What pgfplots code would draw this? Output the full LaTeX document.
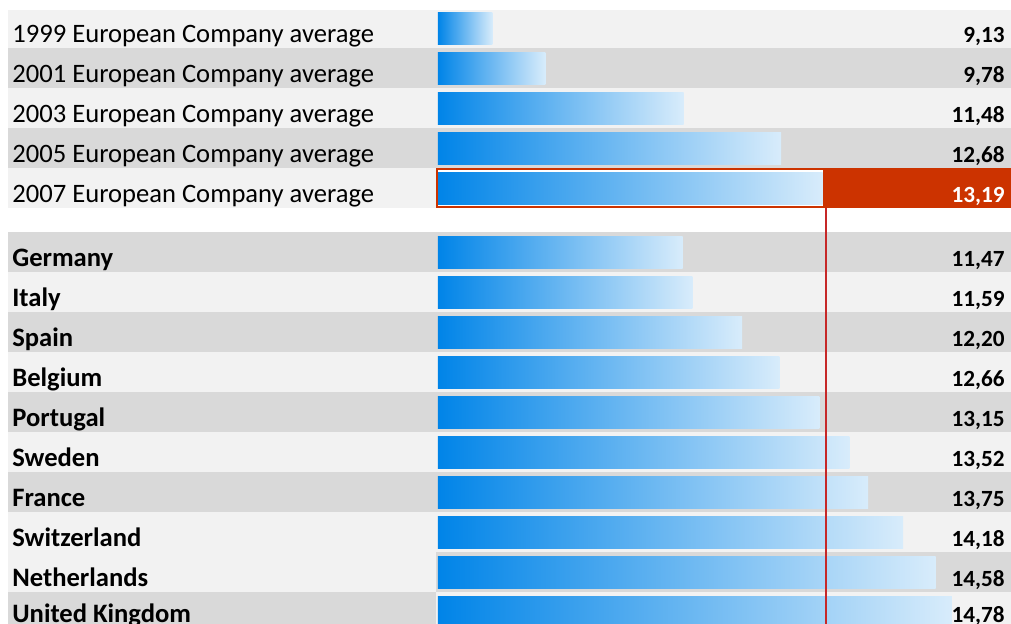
\documentclass[border=0pt]{standalone}
\usepackage{pgfplots}
\usepackage{pgfplotstable}
\usepackage{fontspec}
\setmainfont{Carlito}
\pgfplotsset{compat=1.18}

\definecolor{rowlight}{HTML}{F2F2F2}
\definecolor{rowdark}{HTML}{D9D9D9}
\definecolor{barleft}{HTML}{0084E8}
\definecolor{barright}{HTML}{D8ECFB}
\definecolor{hilite}{HTML}{CC3300}
\definecolor{refline}{HTML}{C62828}

% bars start at this value (left edge of the bar column)
\newcommand\base{8.46}

\pgfplotstableread[col sep=comma]{
y,label,val
28,1999 European Company average,9.13
68,2001 European Company average,9.78
108,2003 European Company average,11.48
148,2005 European Company average,12.68
188,2007 European Company average,13.19
}\averages

\pgfplotstableread[col sep=comma]{
y,label,val
252,Germany,11.47
292,Italy,11.59
332,Spain,12.20
372,Belgium,12.66
412,Portugal,13.15
452,Sweden,13.52
492,France,13.75
532,Switzerland,14.18
572,Netherlands,14.58
612,United Kingdom,14.78
}\countries

\pgfplotsset{
  /pgf/number format/use comma,
  /pgf/number format/fixed,
  /pgf/number format/fixed zerofill,
  /pgf/number format/precision=2,
  /pgf/number format/assume math mode=true,
  databar/.style={xbar, bar width=32, draw=none, left color=barleft, right color=barright,
    x filter/.expression={\coordindex==#1 ? x : nan}},
  rowname/.style={draw=none, mark=none, nodes near coords, point meta=explicit symbolic,
    nodes near coords style={anchor=base west, inner sep=0pt, yshift=-7pt,
      font=\fontsize{13.3}{15}\selectfont#1}},
  rowvalue/.style={draw=none, mark=none, nodes near coords, point meta=explicit,
    nodes near coords style={anchor=base east, inner sep=0pt, yshift=-7pt,
      font=\fontsize{11.6}{14}\selectfont\bfseries}},
}

\begin{document}
\begin{tikzpicture}
\begin{axis}[
  scale only axis, width=505.5pt, height=311.5pt,
  xmin=-5.387, xmax=7.048, ymin=0, ymax=623, y dir=reverse,
  axis line style={draw=none}, ticks=none,
]
  % row bands
  \fill[rowlight] (axis cs:-5.289,10) rectangle (axis cs:7.1,48);
  \fill[rowdark]  (axis cs:-5.289,48) rectangle (axis cs:7.1,88);
  \fill[rowlight] (axis cs:-5.289,88) rectangle (axis cs:7.1,128);
  \fill[rowdark]  (axis cs:-5.289,128) rectangle (axis cs:7.1,168);
  \fill[rowlight] (axis cs:-5.289,168) rectangle (axis cs:-0.0246,208);
  \fill[hilite]   (axis cs:4.754,168) rectangle (axis cs:7.1,208);
  \fill[rowdark]  (axis cs:-5.289,232) rectangle (axis cs:7.1,272);
  \fill[rowlight] (axis cs:-5.289,272) rectangle (axis cs:7.1,312);
  \fill[rowdark]  (axis cs:-5.289,312) rectangle (axis cs:7.1,352);
  \fill[rowlight] (axis cs:-5.289,352) rectangle (axis cs:7.1,392);
  \fill[rowdark]  (axis cs:-5.289,392) rectangle (axis cs:7.1,432);
  \fill[rowlight] (axis cs:-5.289,432) rectangle (axis cs:7.1,472);
  \fill[rowdark]  (axis cs:-5.289,472) rectangle (axis cs:7.1,512);
  \fill[rowlight] (axis cs:-5.289,512) rectangle (axis cs:7.1,552);
  \fill[rowlight] (axis cs:-5.289,552) rectangle (axis cs:-0.0246,592);
  \fill[rowdark]  (axis cs:-0.0246,552) rectangle (axis cs:7.1,592);
  \fill[rowdark]  (axis cs:-5.289,592) rectangle (axis cs:-0.0246,640);
  \fill[rowlight] (axis cs:-0.0246,592) rectangle (axis cs:7.1,640);

  % one plot per bar so that each bar gets its own gradient
  \pgfplotsinvokeforeach{0,...,4}{
    \addplot[databar=#1] table[x expr=\thisrow{val}-\base, y=y]{\averages};
  }
  \pgfplotsinvokeforeach{0,...,9}{
    \addplot[databar=#1] table[x expr=\thisrow{val}-\base, y=y]{\countries};
  }

  % highlighted 2007 cell
  \draw[hilite, line width=1.2pt] (axis cs:-0.0123,169) rectangle (axis cs:4.754,207);
  \addplot[refline, line width=1pt, xshift=1.5pt] table[x expr=\thisrow{v}-\base, y=y, row sep=\\]{
    v y\\ 13.19 208\\ 13.19 640\\};

  \addplot[rowname={}] table[x expr=-5.24, y=y, meta=label]{\averages};
  \addplot[rowname=\bfseries, coordinate style/.condition={\coordindex==9}{yshift=2pt}]
    table[x expr=-5.24, y=y, meta=label]{\countries};
  \addplot[rowvalue, coordinate style/.condition={\coordindex==4}{text=white}]
    table[x expr=6.974, y=y, meta=val]{\averages};
  \addplot[rowvalue, coordinate style/.condition={\coordindex==9}{yshift=2pt}]
    table[x expr=6.974, y=y, meta=val]{\countries};
\end{axis}
\pgfresetboundingbox
\path[use as bounding box] (current axis.south west) rectangle (current axis.north east);
\end{tikzpicture}
\end{document}
